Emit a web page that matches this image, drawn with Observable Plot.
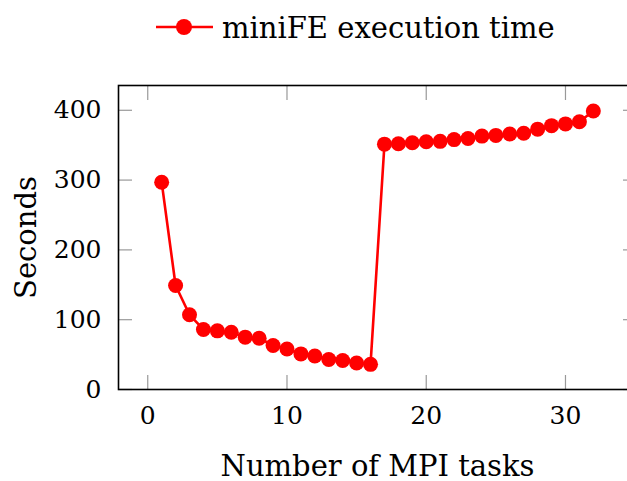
<!DOCTYPE html>
<html>
<head>
<meta charset="utf-8">
<script src="https://cdn.jsdelivr.net/npm/d3@7"></script>
<script src="https://cdn.jsdelivr.net/npm/@observablehq/plot@0.6"></script>
<style>
  html, body { margin: 0; padding: 0; background: #fff; overflow: hidden; width: 627px; height: 481px; }
  #legend { display: block; }
  #chart svg { overflow: hidden; }
</style>
</head>
<body>
<svg id="legend" width="627" height="50"></svg>
<div id="chart"></div>
<script>
const seriesName = "miniFE execution time";
const tasks = [1,2,3,4,5,6,7,8,9,10,11,12,13,14,15,16,17,18,19,20,21,22,23,24,25,26,27,28,29,30,31,32];
const seconds = [297,149,107,86,84,82,75,73.5,63,58,51,48,43,41.5,38,36,
                 351.5,352,353.5,355,355.5,358,359.5,363,364,366,367,373,378,380.5,383.5,399];
const xTicks = [0,10,20,30];
const yTicks = [0,100,200,300,400];
const xLabel = "Number of MPI tasks";
const yLabel = "Seconds";

const data = tasks.map((t, i) => ({tasks: t, seconds: seconds[i]}));
const red = "#ff0000";
const font = "DejaVu Serif, serif";

// legend (above the chart)
const lg = d3.select("#legend");
lg.append("line").attr("x1", 156).attr("x2", 213).attr("y1", 27).attr("y2", 27)
  .attr("stroke", red).attr("stroke-width", 2.6);
lg.append("circle").attr("cx", 184).attr("cy", 27).attr("r", 8).attr("fill", red);
lg.append("text").attr("x", 222).attr("y", 38).text(seriesName)
  .attr("font-family", font).attr("font-size", 29).attr("fill", "#000");

const tickStroke = "#999";
const chart = Plot.plot({
  width: 627,
  height: 431,
  marginTop: 35,
  marginBottom: 92,
  marginLeft: 118,
  marginRight: -9,
  style: {fontFamily: font, fontSize: "25px", color: "#000", background: "#fff"},
  x: {domain: [-2.1, 35.1], ticks: xTicks},
  y: {domain: [0, 435.5], ticks: yTicks},
  marks: [
    // inward tick marks on all four sides
    Plot.axisX({anchor: "bottom", ticks: xTicks, tickSize: -14, tickFormat: () => "", label: null, stroke: tickStroke, strokeWidth: 1.2}),
    Plot.axisX({anchor: "top", ticks: xTicks, tickSize: -14, tickFormat: () => "", label: null, stroke: tickStroke, strokeWidth: 1.2}),
    Plot.axisY({anchor: "left", ticks: yTicks, tickSize: -14, tickFormat: () => "", label: null, stroke: tickStroke, strokeWidth: 1.2}),
    Plot.axisY({anchor: "right", ticks: yTicks, tickSize: -14, tickFormat: () => "", label: null, stroke: tickStroke, strokeWidth: 1.2}),
    // tick labels
    Plot.axisX({anchor: "bottom", ticks: xTicks, tickSize: 0, tickPadding: 17, label: null, fontSize: 25}),
    Plot.axisY({anchor: "left", ticks: yTicks, tickSize: 0, tickPadding: 17, label: null, fontSize: 25}),
    // axis titles
    Plot.text([xLabel], {frameAnchor: "bottom", dy: 86, fontSize: 29, fill: "#000"}),
    Plot.text([yLabel], {frameAnchor: "left", textAnchor: "middle", dx: -92, rotate: -90, fontSize: 29, fill: "#000"}),
    Plot.frame({stroke: "#000", strokeWidth: 1.6}),
    Plot.line(data, {x: "tasks", y: "seconds", stroke: red, strokeWidth: 2.6}),
    Plot.dot(data, {x: "tasks", y: "seconds", fill: red, r: 7.5})
  ]
});
document.getElementById("chart").appendChild(chart);
</script>
</body>
</html>
